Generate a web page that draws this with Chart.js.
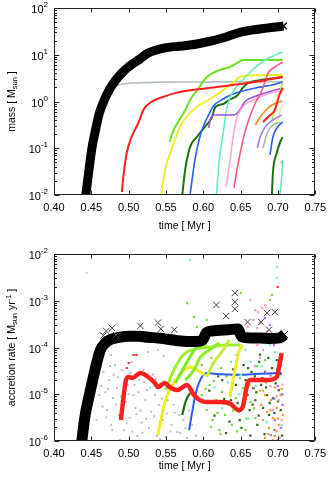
<!DOCTYPE html>
<html>
<head>
<meta charset="utf-8">
<script src="https://cdn.jsdelivr.net/npm/chart.js@4.4.0/dist/chart.umd.min.js"></script>
<style>
  html, body { margin: 0; padding: 0; background: #fff; }
  #wrap { position: relative; width: 332px; height: 480px; }
  canvas { position: absolute; left: 0; }
  #massChart { top: 0; }
  #rateChart { top: 240px; }
</style>
</head>
<body>
<div id="wrap">
  <canvas id="massChart" width="332" height="240"></canvas>
  <canvas id="rateChart" width="332" height="240"></canvas>
</div>
<script>
// ---- axis ticks ----
const timeTicks = [0.40, 0.45, 0.50, 0.55, 0.60, 0.65, 0.70, 0.75];
const massExp = [-2, -1, 0, 1, 2];
const rateExp = [-6, -5, -4, -3, -2];

// ---- top panel : mass [Msun] vs time [Myr] ----
const massMain = [[0.4426,0.0100],[0.4465,0.031],[0.4504,0.092],[0.4556,0.245],[0.4608,0.567],[0.4674,1.08],[0.4739,1.76],[0.4817,2.75],[0.4909,4.07],[0.5013,5.74],[0.5131,7.73],[0.5261,10.9],[0.5470,13.9],[0.5718,15.4],[0.5914,17.0],[0.6110,19.7],[0.6305,24.0],[0.6514,30.7],[0.6762,35.6],[0.7075,41.2]];
const massGray = [[0.482,2.15],[0.494,2.4],[0.513,2.5],[0.545,2.6],[0.590,2.62],[0.650,2.65],[0.707,2.65]];
const massRed = [[0.4909,0.0116],[0.4935,0.0296],[0.4974,0.079],[0.5039,0.174],[0.5130,0.347],[0.5196,0.658],[0.5300,0.975],[0.5457,1.25],[0.5650,1.55],[0.5900,1.8],[0.6135,2.0],[0.6566,2.45],[0.6827,2.85],[0.7062,3.34]];
const massGreen = [[0.5548,0.136],[0.5600,0.24],[0.5653,0.347],[0.5750,0.62],[0.5825,1.1],[0.5914,1.7],[0.6044,3.3],[0.6200,4.6],[0.6350,5.4],[0.6450,6.6],[0.6527,7.7],[0.7062,7.7]];
const massYellow = [[0.5431,0.01],[0.5496,0.0397],[0.5587,0.106],[0.5679,0.271],[0.5783,0.49],[0.5914,0.762],[0.6135,1.25],[0.6305,1.95],[0.6436,2.89],[0.6527,3.51],[0.7062,3.69]];
const massDkGreen = [[0.5718,0.01],[0.5757,0.0343],[0.5822,0.106],[0.5914,0.174],[0.6018,0.285],[0.6110,0.444],[0.6162,0.762],[0.6266,0.885],[0.6345,1.08],[0.6462,1.38],[0.6527,1.95],[0.6606,2.49],[0.6775,2.89],[0.7062,3.34]];
const massBlue = [[0.5822,0.01],[0.5888,0.0561],[0.5953,0.174],[0.6018,0.347],[0.6084,0.567],[0.6136,0.80],[0.6266,1.13],[0.6397,1.45],[0.6527,1.68],[0.6697,1.95],[0.6919,2.25],[0.7062,2.61]];
const massAqua = [[0.6175,0.01],[0.6214,0.0561],[0.6266,0.212],[0.6305,0.596],[0.6345,1.08],[0.6397,1.60],[0.6527,2.89],[0.6658,4.72],[0.6828,7.73],[0.7062,11.5]];
const massPink = [[0.6305,0.0148],[0.6358,0.056],[0.6410,0.223],[0.6449,0.444],[0.6501,0.658],[0.6566,0.885],[0.6671,1.08],[0.6828,1.38],[0.7062,1.76]];
const massCrimson = [[0.6410,0.0141],[0.6475,0.0561],[0.6566,0.245],[0.6658,0.658],[0.6697,0.929],[0.6788,1.76],[0.6867,4.07],[0.6958,5.47],[0.7062,7.0]];
const massPurple = [[0.6070,0.271],[0.6096,0.423],[0.6149,0.514],[0.6410,0.514],[0.6488,0.658],[0.6553,0.975],[0.6671,1.25],[0.6828,1.52],[0.7062,1.95]];
const massOrange = [[0.6697,0.314],[0.6762,0.466],[0.6828,0.627],[0.6919,0.842],[0.7062,1.03]];
const massRed2 = [[0.6801,0.364],[0.6880,0.490],[0.6958,0.658],[0.7010,1.25],[0.7063,1.95]];
const massLavender = [[0.6723,0.101],[0.6762,0.174],[0.6828,0.285],[0.6932,0.402],[0.7050,0.514]];
const massGrayBlue = [[0.6801,0.101],[0.6854,0.212],[0.6932,0.314],[0.7050,0.364]];
const massBlue2 = [[0.6893,0.0718],[0.6932,0.174],[0.6997,0.285],[0.7063,0.364]];
const massDkGreen2 = [[0.6919,0.01],[0.6932,0.0296],[0.6984,0.079],[0.7024,0.129],[0.7063,0.174]];
const massAqua2 = [[0.7024,0.01],[0.7050,0.0243],[0.7063,0.0561]];
const massLime2 = [[0.6919,0.402],[0.6971,0.842],[0.7024,1.60],[0.7063,2.49]];
const massPaleYellow = [[0.6958,0.245],[0.7010,0.514],[0.7063,0.842]];
const massMagenta = [[0.7050,0.050]];

// ---- bottom panel : accretion rate [Msun/yr] vs time [Myr] ----
const rateMain = [[0.4373,1.0e-6],[0.4399,2.2e-6],[0.4425,4.2e-6],[0.4465,8.3e-6],[0.4504,1.6e-5],[0.4543,3.0e-5],[0.4582,5.4e-5],[0.4621,8.8e-5],[0.4687,1.25e-4],[0.4765,1.5e-4],[0.4869,1.65e-4],[0.5000,1.75e-4],[0.5131,1.75e-4],[0.5261,1.65e-4],[0.5392,1.6e-4],[0.5522,1.5e-4],[0.5653,1.4e-4],[0.5783,1.35e-4],[0.5914,1.35e-4],[0.5992,1.45e-4],[0.6044,2.1e-4],[0.6175,2.3e-4],[0.6331,2.4e-4],[0.6462,2.5e-4],[0.6514,1.7e-4],[0.6631,1.6e-4],[0.6762,1.6e-4],[0.6893,1.55e-4],[0.7023,1.6e-4],[0.7088,1.9e-4]];
const rateMainOut = [[0.4661,1.8e-4],[0.4700,2.25e-4],[0.4778,2.6e-4],[0.4830,1.85e-4],[0.5157,2.9e-4],[0.5392,3.4e-4],[0.5431,2.5e-4],[0.5613,2.4e-4],[0.6175,8.1e-4],[0.6305,4.7e-4],[0.6423,1.47e-3],[0.6423,9.4e-4],[0.6423,6.7e-4],[0.6593,3.5e-4],[0.6775,3.5e-4],[0.6854,5.5e-4],[0.6958,5.7e-4],[0.6880,2.4e-4]];
const rateRed = [[0.4896,2.8e-6],[0.4935,9.6e-6],[0.4961,1.92e-5],[0.5000,2.34e-5],[0.5052,2.23e-5],[0.5157,2.85e-5],[0.5261,2.34e-5],[0.5352,1.74e-5],[0.5392,1.43e-5],[0.5483,1.74e-5],[0.5548,1.43e-5],[0.5653,1.23e-5],[0.5783,1.58e-5],[0.5875,9.6e-6],[0.5953,7.5e-6],[0.6044,6.8e-6],[0.6214,6.8e-6],[0.6345,6.5e-6],[0.6475,4.6e-6],[0.6527,5.3e-6],[0.6593,1.74e-5],[0.6632,2.02e-5],[0.6736,2.02e-5],[0.6867,2.02e-5],[0.6984,2.34e-5],[0.7024,4.66e-5],[0.7050,7.6e-5]];
const rateBlue = [[0.5809,1.7e-6],[0.5849,4.0e-6],[0.5888,8.7e-6],[0.5940,1.74e-5],[0.6044,2.85e-5],[0.6175,2.7e-5],[0.6436,2.6e-5],[0.6697,2.7e-5],[0.7050,2.85e-5]];
const rateDkGreen = [[0.5718,3.6e-6],[0.5757,6.5e-6],[0.5783,8.3e-6],[0.5822,1.06e-5]];
const rateYellow = [[0.5392,1.34e-6],[0.5431,2.8e-6],[0.5483,6.5e-6],[0.5548,1.23e-5],[0.5627,2.0e-5],[0.5718,3.0e-5],[0.5822,3.83e-5],[0.5914,3.3e-5],[0.6018,2.6e-5]];
const rateYellow2 = [[0.6358,8.7e-6],[0.6397,2.0e-5],[0.6436,4.2e-5],[0.6475,8.0e-5],[0.6527,1.13e-4]];
const rateLimeA = [[0.5496,1.23e-5],[0.5587,2.85e-5],[0.5679,5.4e-5],[0.5757,7.6e-5],[0.5849,8.9e-5],[0.5979,9.8e-5],[0.6110,1.03e-4],[0.6305,1.13e-4],[0.6501,1.13e-4]];
const rateLimeB = [[0.5627,1.74e-5],[0.5744,3.83e-5],[0.5822,6.3e-5],[0.5914,1.03e-4],[0.6044,1.19e-4]];
const rateLimeC = [[0.5757,2.0e-5],[0.5875,3.3e-5],[0.5953,6.0e-5],[0.6084,8.9e-5],[0.6214,1.25e-4]];
const rateLimeD = [[0.6044,2.34e-5],[0.6136,4.66e-5],[0.6266,8.9e-5],[0.6345,1.45e-4]];
const rateGrayDots = [[0.4439,3.9e-3],[0.4661,3.0e-5],[0.4687,1.1e-5],[0.4713,4.6e-6],[0.4739,2.0e-5],[0.4765,2.2e-6],[0.4791,8.3e-6],[0.4817,4.2e-5],[0.4843,1.36e-5],[0.4869,3.6e-6],[0.4883,1.05e-6],[0.4909,3.3e-5],[0.4935,1.7e-6],[0.4961,6.8e-6],[0.4987,1.58e-5],[0.5013,3.1e-6],[0.5039,4.9e-5],[0.5065,9.6e-6],[0.5091,5.1e-6],[0.5117,1.28e-6],[0.5144,2.0e-5],[0.5170,2.5e-6],[0.5196,3.3e-5],[0.5222,7.5e-6],[0.5248,1.23e-5],[0.5274,1.9e-6],[0.5300,4.2e-6],[0.5326,2.6e-5],[0.5352,9.6e-6],[0.5379,1.28e-6],[0.5405,5.9e-6],[0.5431,1.66e-5],[0.5457,2.8e-6],[0.5496,1.22e-6],[0.5522,7.5e-6],[0.5575,2.2e-6],[0.5614,4.0e-6],[0.5653,1.56e-6],[0.5692,1.48e-6],[0.5731,2.8e-6],[0.5783,1.16e-6],[0.5849,2.2e-6],[0.5261,8.0e-5],[0.5392,8.9e-5],[0.5470,6.6e-5],[0.4765,6.9e-5],[0.4608,9.6e-6],[0.4569,2.8e-6],
  [0.4635,1.5e-5],[0.4650,5.5e-6],[0.4700,3.2e-6],[0.4725,1.3e-5],[0.4750,4.0e-5],[0.4780,1.7e-6],[0.4800,2.6e-5],[0.4830,6.0e-6],[0.4855,2.3e-5],[0.4895,9.0e-6],[0.4920,5.0e-6],[0.4945,1.2e-5],[0.4975,2.4e-6],[0.5000,1.0e-5],[0.5025,2.8e-5],[0.5050,1.6e-6],[0.5080,1.6e-5],[0.5105,3.8e-6],[0.5130,1.1e-5],[0.5160,4.5e-6],[0.5185,1.5e-6],[0.5210,1.8e-5],[0.5235,3.0e-6],[0.5290,1.4e-5],[0.5340,3.4e-6],[0.5365,2.1e-5],[0.5420,1.1e-6],[0.5445,8.0e-6],[0.5510,3.9e-6],[0.5560,1.6e-6],[0.5600,6.0e-6],[0.5680,3.6e-6],[0.5760,1.9e-6],[0.5810,4.5e-6],[0.5900,1.3e-6]];
const rateGreenDots = [[0.5979,9.6e-6],[0.6044,4.6e-6],[0.6084,1.58e-5],[0.6123,2.8e-6],[0.6175,7.5e-6],[0.6214,1.7e-6],[0.6253,1.12e-5],[0.6292,3.6e-6],[0.6332,5.9e-6],[0.6384,2.2e-6],[0.6436,8.3e-6],[0.6475,4.2e-6],[0.6527,1.36e-5],[0.6566,1.7e-6],[0.6632,6.8e-6],[0.6697,3.1e-6],[0.5783,8.95e-4],[0.5875,4.5e-4],[0.5914,2.75e-4],[0.6044,3.9e-4],[0.6501,1.47e-3],[0.6919,1.33e-3],[0.6893,1.04e-3],[0.6762,2.0e-5],[0.6828,5.4e-5],[0.6110,6.0e-5],[0.6240,3.64e-5],[0.5979,4.2e-5],
  [0.6000,2.6e-5],[0.6030,1.3e-5],[0.6070,7.0e-6],[0.6100,2.0e-6],[0.6140,1.9e-5],[0.6190,4.0e-6],[0.6230,1.4e-6],[0.6270,6.5e-6],[0.6310,2.4e-5],[0.6360,1.1e-5],[0.6400,4.5e-6],[0.6450,1.6e-6],[0.6490,2.2e-5],[0.6540,7.0e-6],[0.6580,3.0e-6],[0.6620,1.6e-5],[0.6680,5.0e-6],[0.6720,4.0e-5],[0.6800,1.2e-5]];
const rateDkGreenDots = [[0.6540,4.2e-5],[0.6566,2.0e-5],[0.6593,9.6e-6],[0.6619,4.6e-6],[0.6645,3.0e-5],[0.6671,1.36e-5],[0.6697,7.5e-6],[0.6723,2.2e-6],[0.6749,4.9e-5],[0.6775,1.58e-5],[0.6801,5.1e-6],[0.6828,3.0e-5],[0.6854,9.6e-6],[0.6880,3.6e-6],[0.6906,2.0e-5],[0.6932,8.3e-6],[0.6958,1.7e-6],[0.6984,5.4e-5],[0.7010,1.23e-5],[0.7037,4.6e-6],[0.6371,7.5e-6],[0.6436,1.58e-5],[0.6488,2.8e-6],[0.6305,1.48e-6],[0.6253,2.0e-5],
  [0.6080,1.2e-5],[0.6150,3.5e-6],[0.6200,2.4e-5],[0.6280,8.0e-6],[0.6350,2.6e-6],[0.6400,3.4e-5],[0.6460,6.5e-6],[0.6510,1.9e-6],[0.6550,1.0e-5],[0.6600,3.6e-5],[0.6630,1.3e-6],[0.6660,6.0e-6],[0.6690,2.4e-5],[0.6710,1.1e-5],[0.6740,3.5e-6],[0.6760,7.0e-5],[0.6790,2.2e-5],[0.6820,1.4e-6],[0.6840,1.4e-5],[0.6870,6.0e-5],[0.6890,6.5e-6],[0.6920,3.6e-5],[0.6950,4.0e-6],[0.6970,1.7e-5],[0.7000,7.0e-6],[0.7030,2.7e-5],[0.7055,1.3e-6]];
const rateOrangeDots = [[0.6775,5.9e-6],[0.6801,2.8e-6],[0.6828,1.16e-6],[0.6854,4.2e-6],[0.6880,1.9e-6],[0.6906,7.5e-6],[0.6932,3.1e-6],[0.6958,1.28e-6],[0.6984,5.1e-6],[0.7010,2.2e-6],[0.7037,9.6e-6],[0.7063,3.6e-6],[0.6932,1.05e-6],[0.6828,9.6e-6],
  [0.6760,1.2e-5],[0.6840,1.8e-5],[0.6900,4.5e-6],[0.6960,1.4e-5],[0.7000,3.0e-6],[0.7050,1.3e-5],[0.6870,1.4e-6],[0.6980,1.6e-6]];
const ratePinkDots = [[0.6632,1.04e-3],[0.6697,6.3e-4],[0.6736,5.7e-4],[0.6788,7.0e-4],[0.6828,8.1e-4],[0.6671,3.9e-4],[0.6762,3.36e-4],[0.6932,4.6e-6],[0.6971,1.7e-6],[0.7010,7.5e-6],[0.7050,2.8e-6],[0.7024,1.16e-6],[0.6723,1.13e-4],[0.6801,8.9e-5],
  [0.6690,4.0e-5],[0.6760,6.0e-5],[0.6840,3.0e-5],[0.6900,1.5e-5],[0.6980,9.0e-6],[0.7030,4.0e-5],[0.7060,1.6e-5],[0.6600,2.8e-4],[0.6720,2.6e-4],[0.6860,2.2e-4]];
const rateAquaDots = [[0.5822,7.4e-3],[0.6984,5.3e-3],[0.6984,3.07e-3],[0.6566,8.9e-5],[0.6632,4.9e-5],[0.6501,2.6e-5],[0.6436,6.9e-5],[0.6893,1.13e-4],[0.6958,8.0e-5],[0.7063,1.05e-6],[0.7050,2.2e-6],[0.6371,4.9e-5],
  [0.6150,1.4e-5],[0.6250,5.0e-6],[0.6330,1.8e-5],[0.6480,1.0e-5],[0.6600,3.0e-6],[0.6700,1.5e-5],[0.6780,4.0e-5],[0.6850,2.5e-6],[0.6990,3.5e-5],[0.7040,1.0e-5]];
const ratePurpleDots = [[0.6828,4.3e-4],[0.6893,3.03e-4],[0.6997,1.05e-6],[0.7037,1.9e-6],[0.7063,5.9e-6],[0.6958,2.8e-6],[0.6906,1.34e-6],[0.6867,1.45e-4],[0.6945,1.13e-4],
  [0.6950,8.0e-6],[0.7000,1.5e-5],[0.7040,4.0e-5],[0.7060,1.0e-5],[0.6900,2.5e-5]];
const rateRedDots = [[0.6997,1.97e-3],[0.5000,4.66e-5],[0.5065,6.9e-5],[0.5104,6.9e-5],[0.4974,3.64e-5]];

const FONT = "'Liberation Sans', Arial, Helvetica, sans-serif";
Chart.defaults.font.family = FONT;
Chart.defaults.color = '#000';

function pts(arr) {
  return arr.map(p => ({ x: p[0], y: p[1] }));
}

function line(data, color, width, extra) {
  return Object.assign({
    data: pts(data), showLine: true, borderColor: color, backgroundColor: color,
    borderWidth: width, pointRadius: 0, fill: false,
    cubicInterpolationMode: 'monotone', clip: 0
  }, extra || {});
}

function dots(data, color, r) {
  return {
    data: pts(data), showLine: false, backgroundColor: color, borderWidth: 0,
    pointStyle: 'rect', pointRadius: r || 1.3, clip: 0
  };
}

// frame, inward ticks, 10^n labels and the y title (with sub/superscripts)
const framePlugin = {
  id: 'frame',
  afterDraw(chart, args, opts) {
    const { ctx, chartArea: a, scales } = chart;
    const xs = scales.x, ys = scales.y;
    const L = Math.round(a.left) + 0.5, R = Math.round(a.right) - 0.5;
    const T = Math.round(a.top) + 0.5, B = Math.round(a.bottom) - 0.5;
    ctx.save();
    ctx.strokeStyle = '#222';
    ctx.lineWidth = 1;
    ctx.beginPath();
    ctx.rect(L, T, R - L, B - T);
    timeTicks.forEach(v => {
      const x = Math.round(xs.getPixelForValue(v)) + 0.5;
      ctx.moveTo(x, B); ctx.lineTo(x, B - 4);
      ctx.moveTo(x, T); ctx.lineTo(x, T + 4);
    });
    opts.exps.forEach((e, i) => {
      const y = Math.round(ys.getPixelForValue(Math.pow(10, e))) + 0.5;
      ctx.moveTo(L, y); ctx.lineTo(L + 5, y);
      ctx.moveTo(R, y); ctx.lineTo(R - 5, y);
      if (i < opts.exps.length - 1) {
        for (let k = 2; k <= 9; k++) {
          const ym = Math.round(ys.getPixelForValue(k * Math.pow(10, e))) + 0.5;
          ctx.moveTo(L, ym); ctx.lineTo(L + 2.5, ym);
          ctx.moveTo(R, ym); ctx.lineTo(R - 2.5, ym);
        }
      }
    });
    ctx.stroke();

    // tick labels 10^n
    ctx.fillStyle = '#000';
    ctx.textBaseline = 'middle';
    opts.exps.forEach(e => {
      const y = ys.getPixelForValue(Math.pow(10, e));
      const ex = String(e);
      ctx.font = '8px ' + FONT;
      const ew = ctx.measureText(ex).width;
      ctx.font = '11px ' + FONT;
      const bw = ctx.measureText('10').width;
      const xr = a.left - 6;
      ctx.textAlign = 'left';
      ctx.fillText('10', xr - ew - bw, y + 2);
      ctx.font = '8px ' + FONT;
      ctx.fillText(ex, xr - ew, y - 3);
    });

    // y title
    const parts = opts.title;
    const fontFor = s => (s ? '7.5px ' : '10.5px ') + FONT;
    let total = 0;
    parts.forEach(p => { ctx.font = fontFor(p[1]); total += ctx.measureText(p[0]).width; });
    ctx.translate(12, (a.top + a.bottom) / 2);
    ctx.rotate(-Math.PI / 2);
    let x = -total / 2;
    parts.forEach(p => {
      ctx.font = fontFor(p[1]);
      ctx.fillText(p[0], x, p[1] < 0 ? 3 : (p[1] > 0 ? -3.5 : 0));
      x += ctx.measureText(p[0]).width;
    });
    ctx.restore();
  }
};

function makeChart(id, datasets, yMin, yMax, exps, title, padTop, axisH) {
  return new Chart(document.getElementById(id), {
    type: 'scatter',
    data: { datasets: datasets },
    options: {
      responsive: false,
      animation: false,
      events: [],
      layout: { padding: { left: 0, top: padTop, right: 11, bottom: 0 } },
      plugins: {
        legend: { display: false },
        tooltip: { enabled: false },
        frame: { exps: exps, title: title }
      },
      scales: {
        x: {
          type: 'linear', position: 'bottom', min: 0.40, max: 0.75,
          afterBuildTicks: s => { s.ticks = timeTicks.map(v => ({ value: v })); },
          ticks: { callback: v => v.toFixed(2), color: '#000', padding: 6, maxRotation: 0, autoSkip: false, font: { family: FONT, size: 11 } },
          grid: { display: false, drawTicks: false },
          border: { display: false },
          title: { display: true, text: 'time [ Myr ]', color: '#000', font: { family: FONT, size: 10.5 }, padding: { top: 0, bottom: 8 } },
          afterFit: s => { s.height = axisH; }
        },
        y: {
          type: 'logarithmic', position: 'left', min: yMin, max: yMax,
          afterBuildTicks: s => { s.ticks = exps.map(e => ({ value: Math.pow(10, e) })); },
          ticks: { display: false },
          grid: { display: false, drawTicks: false },
          border: { display: false },
          afterFit: s => { s.width = 54; }
        }
      }
    },
    plugins: [framePlugin]
  });
}

// top panel (first dataset is drawn on top)
makeChart('massChart', [
  line(massMain, '#000', 9, { pointStyle: 'crossRot', pointRadius: 4.5, pointBorderWidth: 1.5, pointBorderColor: '#000' }),
  line(massRed, '#ff1f1f', 2),
  line(massRed2, '#ff1f1f', 2),
  line(massOrange, '#ff8c1a', 1.6),
  line(massLavender, '#9a7ff0', 1.6),
  line(massGrayBlue, '#a8b4c4', 1.6),
  line(massBlue2, '#2a5cf0', 1.6),
  line(massDkGreen2, '#1f6e12', 2),
  line(massAqua2, '#5fe8b4', 1.6),
  line(massLime2, '#b8e84a', 1.6),
  line(massPaleYellow, '#e8e890', 1.6),
  dots(massMagenta, '#f07ad0', 1.5),
  line(massCrimson, '#ff5a78', 1.6),
  line(massPink, '#ffa6d2', 1.6),
  line(massPurple, '#9955ee', 1.6),
  line(massAqua, '#66eebb', 1.6),
  line(massBlue, '#2a5cf0', 1.6),
  line(massDkGreen, '#1f6e12', 2),
  line(massYellow, '#eeee22', 1.8),
  line(massGreen, '#6ae01e', 2),
  line(massGray, '#b6bebe', 1.6)
], 1e-2, 1e2, massExp, [['mass [ M', 0], ['sun', -1], [' ]', 0]], 8, 45);

// bottom panel
makeChart('rateChart', [
  line(rateMainOut, '#333', 0, { showLine: false, pointStyle: 'crossRot', pointRadius: 4.5, pointBorderWidth: 1, pointBorderColor: '#444' }),
  line(rateMain, '#000', 11, { pointStyle: 'crossRot', pointRadius: 5, pointBorderWidth: 1, pointBorderColor: '#000' }),
  line(rateRed, '#ff2020', 4.5),
  dots(rateRedDots, '#ff2020', 1.5),
  line(rateDkGreen, '#1f6e12', 2.2),
  line(rateYellow2, '#eeee22', 3),
  line(rateLimeD, '#c4ec3a', 3),
  line(rateLimeC, '#8cee22', 3),
  line(rateLimeB, '#7ee82a', 3),
  line(rateLimeA, '#9af02a', 3),
  line(rateYellow, '#eeee22', 3),
  dots(ratePurpleDots, '#aa77ee', 1.6),
  dots(ratePinkDots, '#ff99cc', 1.6),
  dots(rateOrangeDots, '#ff9933', 1.6),
  dots(rateAquaDots, '#77eecc', 1.6),
  line(rateBlue, '#2a5cf0', 2),
  dots(rateDkGreenDots, '#2f6e1e', 1.6),
  dots(rateGreenDots, '#7ad644', 1.6),
  dots(rateGrayDots, '#b6c0c0', 1.4)
], 1e-6, 1e-2, rateExp, [['accretion rate [ M', 0], ['sun', -1], [' yr', 0], ['-1', 1], [' ]', 0]], 14, 39);
</script>
</body>
</html>
